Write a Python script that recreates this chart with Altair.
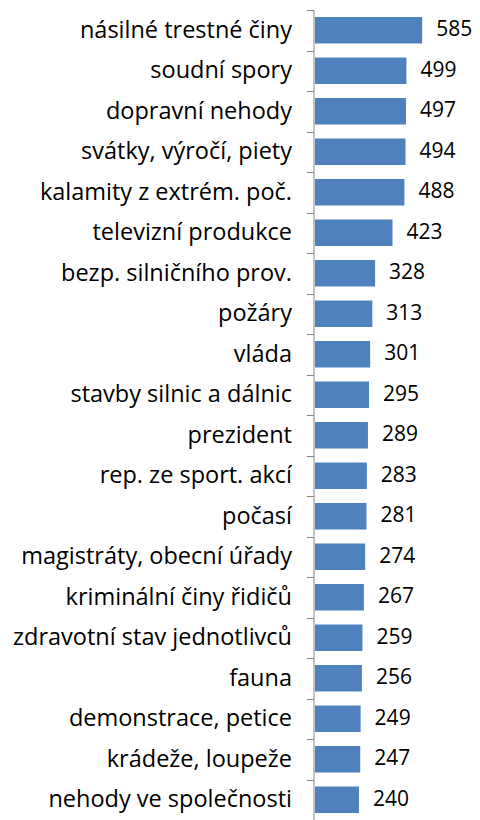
import altair as alt
import pandas as pd

categories = [
    "násilné trestné činy", "soudní spory", "dopravní nehody", "svátky, výročí, piety",
    "kalamity z extrém. poč.", "televizní produkce", "bezp. silničního prov.", "požáry",
    "vláda", "stavby silnic a dálnic", "prezident", "rep. ze sport. akcí", "počasí",
    "magistráty, obecní úřady", "kriminální činy řidičů", "zdravotní stav jednotlivců",
    "fauna", "demonstrace, petice", "krádeže, loupeže", "nehody ve společnosti",
]
values = [585, 499, 497, 494, 488, 423, 328, 313, 301, 295, 289, 283, 281, 274, 267, 259, 256, 249, 247, 240]

df = pd.DataFrame({"cat": categories, "val": values})

FONT = "Open Sans"

y = alt.Y("cat:N", sort=categories, title=None,
          scale=alt.Scale(paddingInner=0, paddingOuter=0),
          axis=alt.Axis(tickBand="extent", domainColor="#868686", tickColor="#868686",
                        tickSize=7, labelFontSize=23.5, labelFont=FONT, labelColor="#000000",
                        labelFontWeight="normal",
                        labelPadding=15, offset=1.5, labelLimit=400))
x = alt.X("val:Q", title=None, scale=alt.Scale(domain=[0, 857], nice=False, zero=True),
          axis=None)

bars = alt.Chart(df).mark_bar(color="#4F81BD", height=alt.RelativeBandSize(0.66)).encode(x=x, y=y)
text = alt.Chart(df).mark_text(align="left", baseline="middle", dx=14, fontSize=21,
                               font=FONT, fontWeight="normal",
                               color="#000000").encode(x=x, y=y, text="val:Q")

chart = (bars + text).properties(
    width=157, height=810,
    autosize=alt.AutoSizeParams(type="none"),
    padding={"left": 307, "top": 2, "right": 0, "bottom": 0},
).configure_view(stroke=None)

chart.save("out.html", embed_options={"renderer": "svg", "actions": False})
